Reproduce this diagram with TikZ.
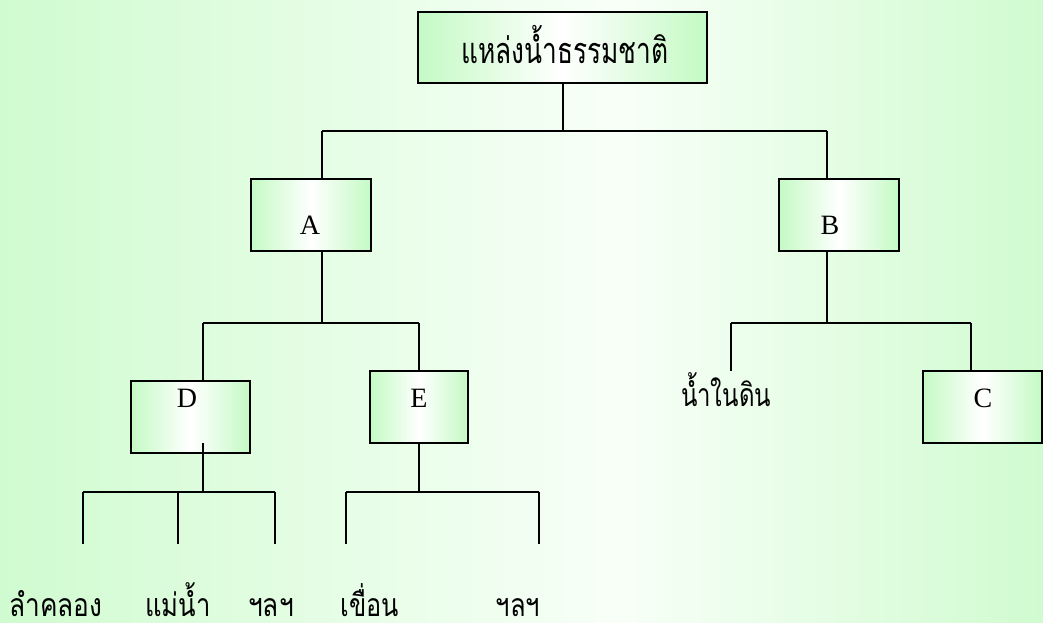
\documentclass[tikz,border=0pt]{standalone}
\usepackage{fontspec}
\setmainfont{Liberation Serif}
\newfontfamily\thaifont[Script=Thai]{Loma}
\definecolor{bgg}{RGB}{208,251,208}
\definecolor{bgw}{RGB}{248,255,248}
\definecolor{boxg}{RGB}{196,250,196}
\newcommand{\thx}[2]{\scalebox{#1}[1]{#2}}
\tikzset{
  box/.style={draw=black, line width=2pt, rectangle, inner sep=0pt,
    left color=boxg, right color=boxg, middle color=white},
  conn/.style={line width=1.4pt, draw=black},
  lat/.style={font=\fontsize{28}{30}\selectfont, inner sep=0pt, anchor=base},
  thaibig/.style={font=\thaifont\fontsize{36}{40}\selectfont, inner sep=0pt, anchor=base},
  thai/.style={font=\thaifont\fontsize{32}{36}\selectfont, inner sep=0pt, anchor=base}
}
\begin{document}
\begin{tikzpicture}[x=1pt,y=-1pt]
\useasboundingbox (0,0) rectangle (1043,623);
\shade[left color=bgg, right color=bgw] (0,0) rectangle (620,623);
\shade[left color=bgw, right color=bgg] (620,0) rectangle (1043,623);

% boxes
\node[box, minimum width=289pt, minimum height=71pt] (top) at (562.5,47.5) {};
\node[box, minimum width=120pt, minimum height=72pt] (A) at (311,215) {};
\node[box, minimum width=120pt, minimum height=72pt] (B) at (839,215) {};
\node[box, minimum width=119pt, minimum height=72pt] (C) at (982.5,407) {};
\node[box, minimum width=119pt, minimum height=72pt] (D) at (190.5,417) {};
\node[box, minimum width=98pt, minimum height=72pt] (E) at (419,407) {};

% texts
\node[thaibig] (ttop) at (565,64) {\thx{0.73}{แหล่งน้ำธรรมชาติ}};
\node[lat] (tA) at (310,234) {A};
\node[lat] (tB) at (830,234) {B};
\node[lat] (tC) at (983,407) {C};
\node[lat] (tD) at (187,407) {D};
\node[lat] (tE) at (419,407) {E};
\node[thai] (gw) at (726,406) {\thx{0.75}{น้ำในดิน}};
\node[thai] (l1) at (56,616) {\thx{0.82}{ลำคลอง}};
\node[thai] (l2) at (178,616) {\thx{0.8}{แม่น้ำ}};
\node[thai] (l3) at (271,616) {\thx{0.82}{ฯลฯ}};
\node[thai] (l4) at (370,616) {\thx{0.79}{เขื่อน}};
\node[thai] (l5) at (518,616) {\thx{0.8}{ฯลฯ}};

% junction coordinates
\coordinate (j0) at (563,131);
\coordinate (jA) at (322,131);
\coordinate (jB) at (827,131);
\coordinate (jA2) at (322,323);
\coordinate (jD) at (203,323);
\coordinate (jE) at (419,323);
\coordinate (jB2) at (827,323);
\coordinate (jG) at (731,323);
\coordinate (jC) at (971,323);
\coordinate (gwtop) at (731,371);
\coordinate (dstart) at (203,443);
\coordinate (jD2) at (203,492);
\coordinate (d1) at (83,492);
\coordinate (d2) at (178,492);
\coordinate (d3) at (275,492);
\coordinate (d1e) at (83,544);
\coordinate (d2e) at (178,544);
\coordinate (d3e) at (275,544);
\coordinate (jE2) at (419,492);
\coordinate (e1) at (346,492);
\coordinate (e2) at (539,492);
\coordinate (e1e) at (346,544);
\coordinate (e2e) at (539,544);

% connectors
\draw[conn] (top.south -| j0) -- (j0);
\draw[conn] (jA) -- (jB);
\draw[conn] (jA) -- (jA |- A.north);
\draw[conn] (jB) -- (jB |- B.north);
\draw[conn] (A.south -| jA2) -- (jA2);
\draw[conn] (jD) -- (jE);
\draw[conn] (jD) -- (jD |- D.north);
\draw[conn] (jE) -- (jE |- E.north);
\draw[conn] (B.south -| jB2) -- (jB2);
\draw[conn] (jG) -- (jC);
\draw[conn] (jG) -- (gwtop);
\draw[conn] (jC) -- (jC |- C.north);
\draw[conn] (dstart) -- (jD2);
\draw[conn] (d1) -- (d3);
\draw[conn] (d1) -- (d1e);
\draw[conn] (d2) -- (d2e);
\draw[conn] (d3) -- (d3e);
\draw[conn] (E.south -| jE2) -- (jE2);
\draw[conn] (e1) -- (e2);
\draw[conn] (e1) -- (e1e);
\draw[conn] (e2) -- (e2e);
\end{tikzpicture}
\end{document}
